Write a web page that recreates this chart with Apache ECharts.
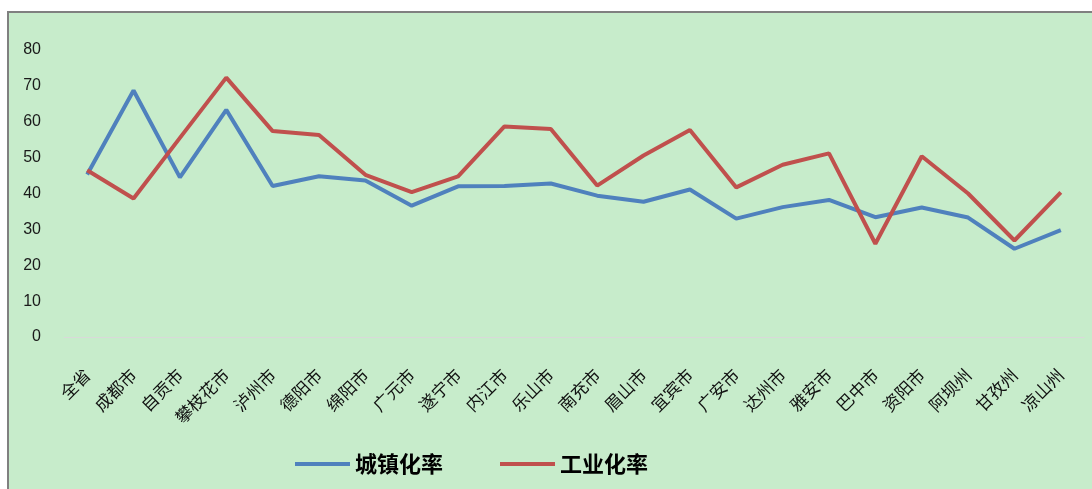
<!DOCTYPE html>
<html>
<head>
<meta charset="utf-8">
<script src="https://cdn.jsdelivr.net/npm/echarts@6/dist/echarts.min.js"></script>
<style>
html,body{margin:0;padding:0;background:#ffffff;}
#chart{width:1092px;height:489px;}
</style>
</head>
<body>
<div id="chart"></div>
<script>
const categories = ['全省','成都市','自贡市','攀枝花市','泸州市','德阳市','绵阳市','广元市','遂宁市','内江市','乐山市','南充市','眉山市','宜宾市','广安市','达州市','雅安市','巴中市','资阳市','阿坝州','甘孜州','凉山州'];
const urbanRate = [45.3, 68.7, 44.5, 63.3, 42.1, 44.8, 43.6, 36.6, 42.0, 42.1, 42.8, 39.4, 37.7, 41.1, 33.0, 36.2, 38.2, 33.4, 36.1, 33.3, 24.6, 29.8];
const industryRate = [46.5, 38.6, 55.5, 72.3, 57.4, 56.3, 45.2, 40.4, 44.8, 58.7, 58.0, 42.2, 50.6, 57.7, 41.7, 48.0, 51.2, 26.0, 50.4, 40.0, 26.9, 40.3];
const yTicks = {min: 0, max: 80, interval: 10};

const chart = echarts.init(document.getElementById('chart'), null, {renderer: 'canvas'});
chart.setOption({
  animation: false,
  backgroundColor: '#ffffff',
  graphic: [{
    type: 'rect',
    z: -10,
    silent: true,
    shape: {x: 8, y: 12, width: 1200, height: 600},
    style: {fill: '#c7eccb', stroke: '#808080', lineWidth: 2}
  }],
  grid: {left: 64, right: 8, top: 50, bottom: 152, containLabel: false},
  xAxis: {
    type: 'category',
    data: categories,
    boundaryGap: true,
    axisLine: {show: true, lineStyle: {color: '#d9d9d9', width: 1}},
    axisTick: {show: false},
    axisLabel: {rotate: 45, interval: 0, margin: 35, color: '#111111', fontSize: 17, fontFamily: 'Noto Sans CJK SC'},
    splitLine: {show: false}
  },
  yAxis: {
    type: 'value',
    min: yTicks.min, max: yTicks.max, interval: yTicks.interval,
    axisLine: {show: false},
    axisTick: {show: false},
    splitLine: {show: false},
    axisLabel: {margin: 23, color: '#1a1a1a', fontSize: 16, fontFamily: 'Liberation Sans'}
  },
  legend: {
    left: 290,
    top: 448,
    icon: 'rect',
    itemWidth: 55,
    itemHeight: 4,
    itemGap: 57,
    textStyle: {fontSize: 22, fontWeight: 'bold', color: '#000000', fontFamily: 'Noto Sans CJK SC'},
    data: ['城镇化率', '工业化率']
  },
  series: [
    {name: '城镇化率', type: 'line', data: urbanRate, symbol: 'none', color: '#4f81bd', lineStyle: {width: 4, color: '#4f81bd'}},
    {name: '工业化率', type: 'line', data: industryRate, symbol: 'none', color: '#c0504d', lineStyle: {width: 4, color: '#c0504d'}}
  ]
});
</script>
</body>
</html>
